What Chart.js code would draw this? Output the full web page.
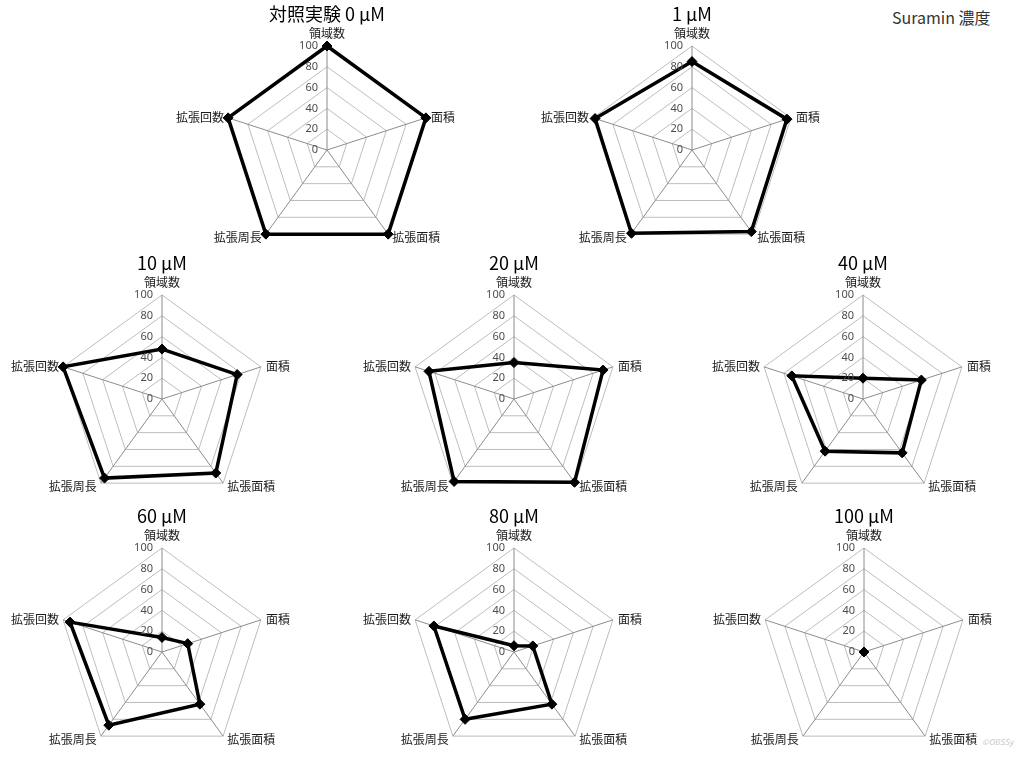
<!DOCTYPE html>
<html>
<head>
<meta charset="utf-8">
<script src="https://cdn.jsdelivr.net/npm/chart.js@4"></script>
<style>
    body { margin: 0; width: 1024px; height: 758px; overflow: hidden; background: #fff; position: relative; }
    canvas { position: absolute; }
    .note { position: absolute; font-family: "Noto Sans CJK JP", "Noto Sans", sans-serif; }
</style>
</head>
<body>
<div class="note" style="left:892px; top:5px; font-size:16px; color:#333;">Suramin 濃度</div>
<div class="note" style="left:982px; top:736px; font-size:8px; color:#c8c8c8; font-style:italic;">©OBSSy</div>
<script>
// global variables
const axisLabels = ['領域数', '面積', '拡張面積', '拡張周長', '拡張回数'];
const tickValues = [0, 20, 40, 60, 80, 100];
const chartTitles = ['対照実験 0 μM', '1 μM', '10 μM', '20 μM', '40 μM', '60 μM', '80 μM', '100 μM'];

const values0 = [100, 100, 100, 100, 100];
const values1 = [85, 96, 97, 99, 98];
const values10 = [48, 76, 88, 94, 100];
const values20 = [35, 90, 99, 98, 86];
const values40 = [20, 59, 64, 62, 72];
const values60 = [14, 26, 62, 87, 93];
const values80 = [6, 19, 62, 80, 81];
const values100 = [0, 0, 0, 0, 0];

const allValues = [values0, values1, values10, values20, values40, values60, values80, values100];

// where each radar's centre sits on the page
const centres = [
    [327, 150], [692, 150],
    [162, 399], [514, 399], [863, 399],
    [162, 652], [514, 652], [864, 652]
];

const labelFont = '12px "Noto Sans CJK JP", "Noto Sans", sans-serif';
const tickFont = '11px "Noto Sans", "Noto Sans CJK JP", sans-serif';

// offsets of the axis labels from the outer vertex
const labelOffsets = [
    { dx: 0, dy: -13, align: 'center' },
    { dx: 5, dy: 0, align: 'left' },
    { dx: 4, dy: 3, align: 'left' },
    { dx: -4, dy: 3, align: 'right' },
    { dx: -4, dy: 0, align: 'right' }
];

const radarText = {
    id: 'radarText',
    afterDraw(chart) {
        const ctx = chart.ctx;
        const scale = chart.scales.r;
        const outer = scale.getDistanceFromCenterForValue(100);
        ctx.save();
        ctx.textBaseline = 'middle';

        ctx.font = tickFont;
        ctx.fillStyle = '#4d4d4d';
        ctx.textAlign = 'right';
        tickValues.forEach((v) => {
            const d = scale.getDistanceFromCenterForValue(v);
            ctx.fillText(String(v), scale.xCenter - 9, scale.yCenter - d);
        });

        ctx.font = labelFont;
        ctx.fillStyle = '#1a1a1a';
        axisLabels.forEach((label, i) => {
            const p = scale.getPointPosition(i, outer);
            const o = labelOffsets[i];
            ctx.textAlign = o.align;
            ctx.fillText(label, p.x + o.dx, p.y + o.dy);
        });
        ctx.restore();
    }
};

function createRadar(index) {
    const canvas = document.createElement('canvas');
    canvas.width = 340;
    canvas.height = 270;
    canvas.style.left = (centres[index][0] - 170) + 'px';
    canvas.style.top = (centres[index][1] - 147) + 'px';
    document.body.appendChild(canvas);

    let data = {
        labels: axisLabels,
        datasets: [{
            data: allValues[index],
            borderColor: '#000',
            borderWidth: 3.5,
            pointStyle: 'rectRot',
            pointRadius: 5,
            pointBackgroundColor: '#000',
            pointBorderColor: '#000',
            pointBorderWidth: 1,
            fill: false
        }]
    };

    let options = {
        responsive: false,
        animation: false,
        devicePixelRatio: 1,
        layout: { padding: { top: 0, bottom: 18.5, left: 66, right: 66 } },
        plugins: {
            legend: { display: false },
            tooltip: { enabled: false },
            title: {
                display: true,
                text: chartTitles[index],
                color: '#000',
                font: { family: '"Noto Sans CJK JP", "Noto Sans", sans-serif', size: 18, weight: 'normal' },
                padding: { top: 0, bottom: 21.5 }
            }
        },
        scales: {
            r: {
                min: 0,
                max: 100,
                ticks: { stepSize: 20, display: false },
                pointLabels: { display: false },
                grid: { color: '#bdbdbd', lineWidth: 1 },
                angleLines: { color: '#8c8c8c', lineWidth: 1 }
            }
        }
    };

    return new Chart(canvas.getContext('2d'), {
        type: 'radar',
        data: data,
        options: options,
        plugins: [radarText]
    });
}

chartTitles.forEach((t, i) => createRadar(i));
</script>
</body>
</html>
